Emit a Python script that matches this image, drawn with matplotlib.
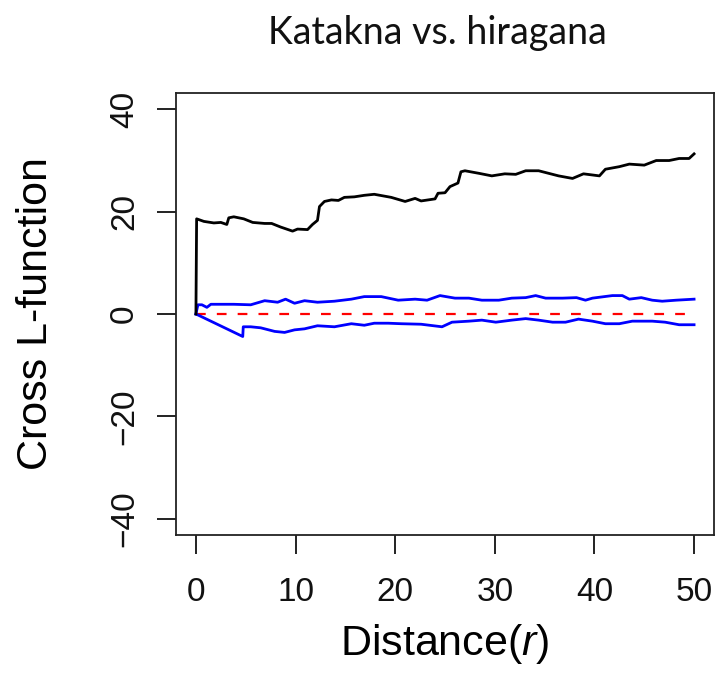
import matplotlib
matplotlib.use("Agg")
import matplotlib.pyplot as plt

plt.rcParams["font.family"] = ["Liberation Sans", "DejaVu Sans"]
plt.rcParams["mathtext.fontset"] = "custom"
plt.rcParams["mathtext.rm"] = "Liberation Sans"
plt.rcParams["mathtext.it"] = "Liberation Sans:italic"
plt.rcParams["lines.scale_dashes"] = False

# Observed cross L-function (katakana vs. hiragana)
obs_r = [0.0, 0.07, 0.8, 1.8, 2.5, 3.1, 3.3, 3.8, 4.8, 5.7, 6.9, 7.6, 8.5, 9.7,
         10.2, 11.2, 11.7, 12.2, 12.4, 12.9, 13.6, 14.3, 14.9, 15.9, 16.9, 17.9,
         19.6, 21.0, 22.0, 22.6, 24.0, 24.3, 25.0, 25.5, 26.3, 26.6, 27.0, 28.4,
         29.7, 31.0, 32.1, 33.1, 34.4, 36.4, 37.8, 38.9, 40.5, 41.1, 42.5, 43.5,
         45.0, 46.2, 47.5, 48.5, 49.5, 50.0]
obs_L = [0.0, 18.6, 18.1, 17.8, 17.9, 17.5, 18.8, 19.0, 18.6, 17.9, 17.7, 17.7,
         17.0, 16.2, 16.6, 16.5, 17.5, 18.3, 21.0, 22.0, 22.3, 22.2, 22.8, 22.9,
         23.2, 23.4, 22.8, 22.0, 22.6, 22.1, 22.5, 23.6, 23.7, 24.9, 25.6, 27.8,
         28.0, 27.5, 27.0, 27.4, 27.3, 28.0, 28.0, 27.0, 26.5, 27.4, 27.0, 28.3,
         28.8, 29.3, 29.1, 30.0, 30.0, 30.4, 30.4, 31.3]

# Upper simulation envelope
hi_r = [0.0, 0.2, 0.6, 1.1, 1.5, 3.8, 5.5, 6.9, 8.2, 9.0, 9.9, 10.9, 12.2,
        13.9, 15.6, 16.9, 17.3, 18.6, 20.3, 22.0, 23.2, 24.5, 26.0, 27.4, 28.7,
        30.4, 31.7, 33.1, 34.1, 35.1, 36.8, 38.2, 39.1, 39.8, 41.0, 41.8, 42.8,
        43.5, 44.7, 45.8, 46.8, 48.2, 50.0]
hi_L = [0.0, 1.8, 1.8, 1.3, 1.9, 1.9, 1.8, 2.6, 2.3, 2.9, 2.1, 2.6, 2.3,
        2.5, 2.9, 3.4, 3.4, 3.4, 2.7, 2.9, 2.7, 3.6, 3.1, 3.1, 2.7,
        2.7, 3.1, 3.2, 3.6, 3.1, 3.1, 3.2, 2.7, 3.1, 3.4, 3.6, 3.6,
        2.9, 3.2, 2.7, 2.5, 2.7, 2.9]

# Lower simulation envelope
lo_r = [0.0, 4.7, 4.75, 5.5, 6.5, 7.9, 8.9, 9.9, 10.9, 12.2, 13.9, 15.6, 16.9,
        17.9, 19.3, 20.6, 22.6, 24.7, 25.7, 27.4, 28.7, 30.1, 31.7, 33.1, 34.4,
        35.8, 37.1, 38.4, 39.8, 41.1, 42.5, 43.8, 45.8, 47.1, 48.5, 50.0]
lo_L = [0.0, -4.4, -2.5, -2.5, -2.7, -3.4, -3.6, -3.1, -2.9, -2.3, -2.5, -1.9, -2.2,
        -1.8, -1.8, -1.9, -2.0, -2.5, -1.6, -1.4, -1.2, -1.6, -1.2, -0.9, -1.2,
        -1.6, -1.6, -1.0, -1.4, -1.9, -1.9, -1.4, -1.4, -1.6, -2.1, -2.1]

# Theoretical value under independence
theo_r = [0.0, 50.0]
theo_L = [0.0, 0.0]

x_ticks = [0, 10, 20, 30, 40, 50]
y_ticks = [-40, -20, 0, 20, 40]

fig = plt.figure(figsize=(7.17, 6.78), dpi=100)
ax = fig.add_axes([176 / 717, 1 - 535 / 678, 538 / 717, 442 / 678])

ax.plot(theo_r, theo_L, color="#ff0000", lw=1.6, dashes=(7, 8))
ax.plot(hi_r, hi_L, color="#0000ff", lw=2.0)
ax.plot(lo_r, lo_L, color="#0000ff", lw=2.0)
ax.plot(obs_r, obs_L, color="black", lw=2.0)

ax.set_xlim(-2, 52)
ax.set_ylim(-43.2, 43.2)
ax.set_xticks(x_ticks)
ax.set_yticks(y_ticks)
ax.set_yticklabels([str(v).replace("-", "\u2212") for v in y_ticks],
                   rotation=90, va="center")
ax.tick_params(axis="both", direction="out", length=14, width=1.3,
               labelsize=24, colors="#111111")
ax.tick_params(axis="x", pad=16)
ax.tick_params(axis="y", pad=12)
for s in ax.spines.values():
    s.set_linewidth(1.3)
    s.set_color("#222222")

ax.set_xlabel(r"Distance($\mathit{r}$)", fontsize=31, labelpad=10)
ax.set_ylabel("Cross L-function", fontsize=31, labelpad=38)

fig.text(437 / 717, 1 - 33 / 678, "Katakna vs. hiragana", ha="center",
         va="center", fontsize=27, family=["Lato", "DejaVu Sans"],
         color="#111111")

fig.savefig("out.png", dpi=100)
